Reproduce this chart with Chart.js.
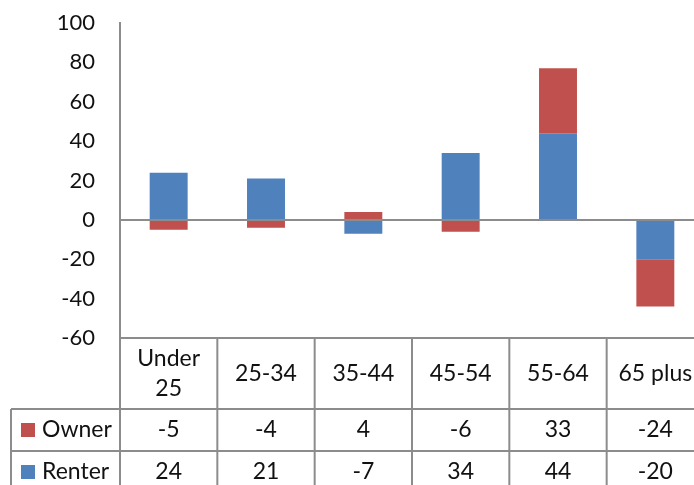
<!DOCTYPE html>
<html>
<head>
<meta charset="utf-8">
<script src="https://cdn.jsdelivr.net/npm/chart.js@4/dist/chart.umd.min.js"></script>
<style>
	html, body { margin: 0; padding: 0; background: #fff; }
	#wrap { width: 694px; height: 485px; overflow: hidden; }
	canvas { display: block; }
</style>
</head>
<body>
<div id="wrap"><canvas id="chart" width="720" height="485"></canvas></div>
<script>
const categories = [["Under", "25"], ["25-34"], ["35-44"], ["45-54"], ["55-64"], ["65 plus"]];
const seriesNames = ["Owner", "Renter"];
const ownerValues = [-5, -4, 4, -6, 33, -24];
const renterValues = [24, 21, -7, 34, 44, -20];
const yMin = -60;
const yMax = 100;
const yStep = 20;

const theme = {
	owner: "#C0504D",
	renter: "#4F81BD",
	line: "#8C8C8C",
	text: "#111111",
	font: "Lato, 'Open Sans', sans-serif"
};

// table geometry (below the plot area)
const headerHeight = 71;
const rowHeight = 42;
const tableLeft = 11;

const dataTable = {
	id: "dataTable",
	afterDraw(chart) {
		const { ctx, chartArea } = chart;
		const xScale = chart.scales.x;
		const top = chartArea.bottom;
		const headerBottom = top + headerHeight;
		const bottom = chart.height + 20;
		const colW = (chartArea.right - chartArea.left) / categories.length;

		ctx.save();
		ctx.strokeStyle = theme.line;
		ctx.lineWidth = 2;
		const line = (x1, y1, x2, y2) => {
			ctx.beginPath();
			ctx.moveTo(x1, y1);
			ctx.lineTo(x2, y2);
			ctx.stroke();
		};

		line(chartArea.left, top, chartArea.right, top);
		for (let r = 0; r < 3; r++) {
			const y = headerBottom + r * rowHeight;
			line(tableLeft, y, chartArea.right, y);
		}
		line(tableLeft, headerBottom, tableLeft, bottom);
		for (let i = 0; i <= categories.length; i++) {
			const x = chartArea.left + i * colW;
			line(x, top, x, bottom);
		}

		ctx.fillStyle = theme.text;
		ctx.font = `23px ${theme.font}`;
		ctx.textAlign = "center";
		ctx.textBaseline = "middle";

		const lineGap = 30.7;
		const headerMid = top + headerHeight / 2;
		categories.forEach((label, i) => {
			const cx = xScale.getPixelForValue(i);
			label.forEach((part, j) => {
				ctx.fillText(part, cx, headerMid + (j - (label.length - 1) / 2) * lineGap);
			});
		});

		const rows = [
			{ name: seriesNames[0], values: ownerValues, color: theme.owner },
			{ name: seriesNames[1], values: renterValues, color: theme.renter }
		];
		rows.forEach((row, r) => {
			const cy = headerBottom + r * rowHeight + rowHeight / 2;
			ctx.fillStyle = row.color;
			ctx.fillRect(21, cy - 7, 14, 14);
			ctx.fillStyle = theme.text;
			ctx.textAlign = "left";
			ctx.fillText(row.name, 42, cy);
			ctx.textAlign = "center";
			row.values.forEach((v, i) => {
				ctx.fillText(String(v), xScale.getPixelForValue(i), cy);
			});
		});
		ctx.restore();
	}
};

new Chart(document.getElementById("chart"), {
	type: "bar",
	data: {
		labels: categories.map((c) => c.join(" ")),
		datasets: [
			{
				label: seriesNames[1],
				data: renterValues,
				backgroundColor: theme.renter,
				barPercentage: 0.39,
				categoryPercentage: 1
			},
			{
				label: seriesNames[0],
				data: ownerValues,
				backgroundColor: theme.owner,
				barPercentage: 0.39,
				categoryPercentage: 1
			}
		]
	},
	options: {
		responsive: false,
		animation: false,
		layout: { padding: { top: 23, right: 16, left: 0, bottom: 0 } },
		plugins: {
			legend: { display: false },
			tooltip: { enabled: false }
		},
		scales: {
			x: {
				stacked: true,
				ticks: { display: false },
				grid: { display: false },
				border: { display: false },
				afterFit(scale) {
					scale.height = 485 - 338;
					scale.paddingLeft = 0;
					scale.paddingRight = 0;
				}
			},
			y: {
				stacked: true,
				min: yMin,
				max: yMax,
				ticks: {
					stepSize: yStep,
					padding: 25,
					color: theme.text,
					font: { family: theme.font, size: 22 }
				},
				grid: {
					drawTicks: false,
					lineWidth: 2,
					color: (c) => (c.tick && c.tick.value === 0 ? theme.line : "rgba(0,0,0,0)")
				},
				border: { display: true, color: theme.line, width: 2 },
				afterFit(scale) {
					scale.width = 120;
					scale.paddingTop = 0;
					scale.paddingBottom = 0;
				}
			}
		}
	},
	plugins: [dataTable]
});
</script>
</body>
</html>
